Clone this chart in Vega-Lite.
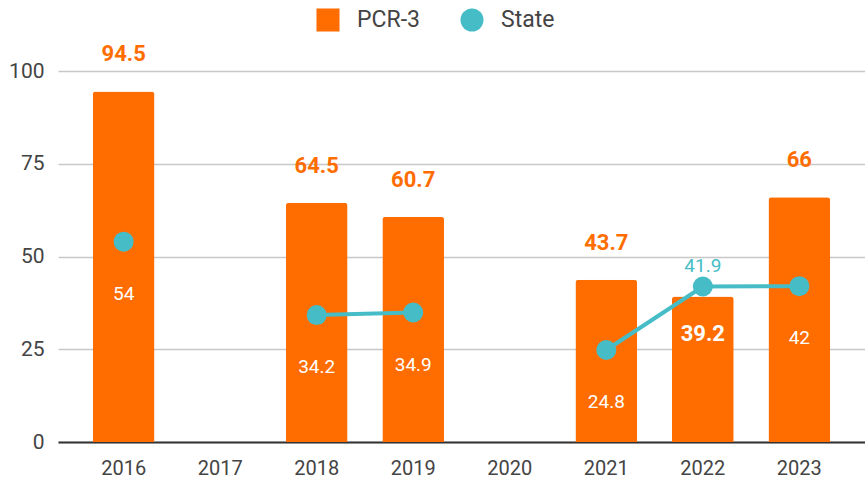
{
  "$schema": "https://vega.github.io/schema/vega-lite/v6.json",
  "width": 807,
  "height": 371,
  "autosize": {"type": "none"},
  "padding": {"left": 58, "top": 71, "right": 0, "bottom": 49},
  "background": "white",
  "config": {"font": "Roboto", "view": {"stroke": null}},
  "data": {
    "values": [
      {"year": "2016", "pcr": 94.5, "state": 54},
      {"year": "2017", "pcr": null, "state": null},
      {"year": "2018", "pcr": 64.5, "state": 34.2},
      {"year": "2019", "pcr": 60.7, "state": 34.9},
      {"year": "2020", "pcr": null, "state": null},
      {"year": "2021", "pcr": 43.7, "state": 24.8},
      {"year": "2022", "pcr": 39.2, "state": 41.9},
      {"year": "2023", "pcr": 66, "state": 42}
    ]
  },
  "encoding": {
    "x": {
      "field": "year",
      "type": "ordinal",
      "scale": {
        "domain": ["2016", "2017", "2018", "2019", "2020", "2021", "2022", "2023"],
        "paddingInner": 0.36,
        "paddingOuter": 0.36
      },
      "axis": {
        "title": null,
        "labelAngle": 0,
        "labelFontSize": 20,
        "labelColor": "#444444",
        "labelPadding": 16,
        "ticks": false,
        "domainColor": "#333333",
        "domainWidth": 2
      }
    }
  },
  "layer": [
    {
      "mark": {"type": "bar", "cornerRadiusTopLeft": 3, "cornerRadiusTopRight": 3},
      "encoding": {
        "y": {
          "field": "pcr",
          "type": "quantitative",
          "scale": {"domain": [0, 100], "nice": false},
          "axis": {
            "title": null,
            "domain": false,
            "ticks": false,
            "values": [0, 25, 50, 75, 100],
            "gridColor": "#c8c8c8",
            "gridWidth": 1.5,
            "labelFontSize": 21,
            "labelColor": "#444444",
            "labelPadding": 14
          }
        },
        "color": {
          "datum": "PCR-3",
          "type": "nominal",
          "scale": {"domain": ["PCR-3", "State"], "range": ["#FF6D01", "#46BDC6"]},
          "legend": {
            "title": null,
            "orient": "none",
            "legendX": 258,
            "legendY": -63,
            "direction": "horizontal",
            "symbolSize": 530,
            "labelFontSize": 23,
            "labelColor": "#444444",
            "columnPadding": 40,
            "labelOffset": 17,
            "encode": {
              "symbols": {
                "update": {
                  "shape": {"signal": "datum.value === 'PCR-3' ? 'square' : 'circle'"},
                  "fill": {"scale": "color", "field": "value"},
                  "strokeWidth": {"value": 0},
                  "opacity": {"value": 1}
                }
              }
            }
          }
        }
      }
    },
    {
      "transform": [{"filter": "datum.pcr != null && datum.year != '2022'"}],
      "mark": {"type": "text", "baseline": "alphabetic", "dy": -30, "fontSize": 22, "fontWeight": "bold", "color": "#FF6D01"},
      "encoding": {
        "y": {"field": "pcr", "type": "quantitative"},
        "text": {"field": "pcr", "type": "quantitative"}
      }
    },
    {
      "transform": [{"filter": "datum.year == '2022'"}],
      "mark": {"type": "text", "baseline": "alphabetic", "dy": 44, "fontSize": 22, "fontWeight": "bold", "color": "white"},
      "encoding": {
        "y": {"field": "pcr", "type": "quantitative"},
        "text": {"field": "pcr", "type": "quantitative"}
      }
    },
    {
      "mark": {"type": "line", "strokeWidth": 4, "invalid": "break-paths-show-domains"},
      "encoding": {
        "y": {"field": "state", "type": "quantitative"},
        "color": {"datum": "State", "type": "nominal"}
      }
    },
    {
      "mark": {"type": "point", "filled": true, "size": 400, "opacity": 1},
      "encoding": {
        "y": {"field": "state", "type": "quantitative"},
        "color": {"datum": "State", "type": "nominal"}
      }
    },
    {
      "transform": [{"filter": "datum.state != null && datum.year != '2022'"}],
      "mark": {"type": "text", "baseline": "alphabetic", "dy": 58, "fontSize": 19, "color": "white"},
      "encoding": {
        "y": {"field": "state", "type": "quantitative"},
        "text": {"field": "state", "type": "quantitative"}
      }
    },
    {
      "transform": [{"filter": "datum.year == '2022'"}],
      "mark": {"type": "text", "baseline": "alphabetic", "dy": -15, "fontSize": 19, "color": "#46BDC6"},
      "encoding": {
        "y": {"field": "state", "type": "quantitative"},
        "text": {"field": "state", "type": "quantitative"}
      }
    }
  ]
}
